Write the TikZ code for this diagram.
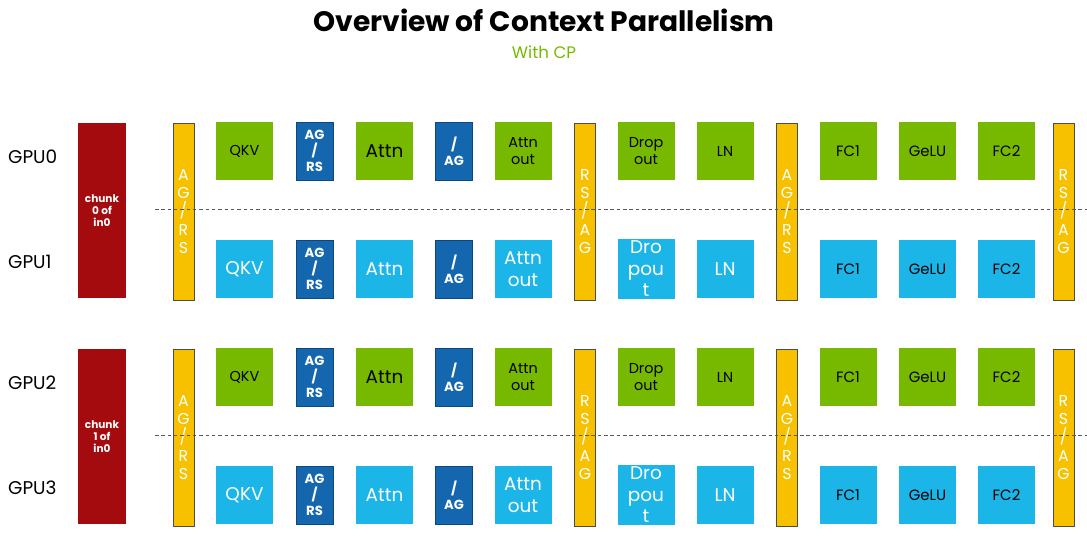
\documentclass[tikz,border=0pt]{standalone}
\usepackage{fontspec}
\setmainfont{Poppins}
\usetikzlibrary{positioning}
\definecolor{nvgreen}{HTML}{76B900}
\definecolor{cpblue}{HTML}{1CB5E8}
\definecolor{commblue}{HTML}{1466AE}
\definecolor{baryellow}{HTML}{F7C100}
\definecolor{chunkred}{HTML}{A30B0F}
\tikzset{
  op/.style={
    fill=#1, minimum width=1.14cm, minimum height=1.16cm,
    inner sep=1pt, align=center
  },
  opg/.style={op=nvgreen, text=black, font=\fontsize{8.2}{10}\selectfont},
  opb/.style={op=cpblue, text=white, font=\fontsize{10.5}{12.2}\selectfont},
  big/.style={font=\fontsize{10.5}{12.2}\selectfont},
  small/.style={font=\fontsize{8.5}{10}\selectfont, text=black},
  comm/.style={
    fill=commblue, draw=commblue!70!black, line width=0.3pt,
    minimum width=0.74cm, minimum height=1.16cm, inner sep=0,
    text=white, align=center, font=\bfseries\fontsize{7.5}{9}\selectfont
  },
  xbar/.style={
    fill=baryellow, draw=black!70, line width=0.4pt,
    minimum width=0.42cm, minimum height=3.54cm, inner sep=0,
    text=white, align=center, font=\fontsize{9}{10.3}\selectfont
  },
  chunk/.style={
    fill=chunkred, minimum width=0.96cm, minimum height=3.5cm, inner sep=0,
    text=white, align=center, font=\bfseries\fontsize{6}{6.7}\selectfont
  },
  gpulab/.style={anchor=west, font=\fontsize{10.5}{12}\selectfont},
  sep/.style={draw=black!65, line width=0.4pt, dash pattern=on 2pt off 1.6pt}
}
\begin{document}
\begin{tikzpicture}[x=0.02cm, y=-0.02cm]
  \useasboundingbox (0,0) rectangle (1087,536);
  \node[font=\bfseries\fontsize{16}{18}\selectfont] (title) at (544,20) {Overview of Context Parallelism};
  \node[text=nvgreen, font=\fontsize{9.5}{11}\selectfont, below=0.05cm of title] (subtitle) {With CP};
  \foreach \g/\dy/\ga/\gb in {0/0/GPU0/GPU1, 1/226/GPU2/GPU3}{
    % labels and input chunk
    \node[gpulab] (lab\g a) at (2,157+\dy) {\ga};
    \node[gpulab] (lab\g b) at (2,262+\dy) {\gb};
    \node[chunk] (chunk\g) at (102,210.5+\dy) {chunk\\\g{} of\\in0};
    % communication bars
    \node[xbar] (bar\g a) at (183.5,211.5+\dy) {A\\G\\/\\R\\S};
    \node[xbar] (bar\g b) at (585,211.5+\dy) {R\\S\\/\\A\\G};
    \node[xbar] (bar\g c) at (787,211.5+\dy) {A\\G\\/\\R\\S};
    \node[xbar] (bar\g d) at (1063.5,211.5+\dy) {R\\S\\/\\A\\G};
    % upper GPU
    \node[opg] (qkv\g t) at (244.5,151+\dy) {QKV};
    \node[comm] (agrs\g t) at (314.5,151+\dy) {AG\\/\\RS};
    \node[opg,big] (attn\g t) at (384.5,151+\dy) {Attn};
    \node[comm] (ag\g t) at (454,151+\dy) {/\\AG};
    \node[opg] (aout\g t) at (523,151+\dy) {Attn\\out};
    \node[opg] (drop\g t) at (646,151+\dy) {Drop\\out};
    \node[opg] (ln\g t) at (725,151+\dy) {LN};
    \node[opg,small] (fca\g t) at (848,151+\dy) {FC1};
    \node[opg,small] (gelu\g t) at (927.5,151+\dy) {GeLU};
    \node[opg,small] (fcb\g t) at (1006.5,151+\dy) {FC2};
    % lower GPU
    \node[opb] (qkv\g b) at (244.5,269+\dy) {QKV};
    \node[comm] (agrs\g b) at (314.5,269+\dy) {AG\\/\\RS};
    \node[opb] (attn\g b) at (384.5,269+\dy) {Attn};
    \node[comm] (ag\g b) at (454,269+\dy) {/\\AG};
    \node[opb] (aout\g b) at (523,269+\dy) {Attn\\out};
    \node[opb] (drop\g b) at (646,269+\dy) {Dro\\pou\\t};
    \node[opb] (ln\g b) at (725,269+\dy) {LN};
    \node[opb,small] (fca\g b) at (848,269+\dy) {FC1};
    \node[opb,small] (gelu\g b) at (927.5,269+\dy) {GeLU};
    \node[opb,small] (fcb\g b) at (1006.5,269+\dy) {FC2};
    % split between the two GPUs
    \coordinate (sepL\g) at (155,209.5+\dy);
    \coordinate (sepR\g) at (1087,209.5+\dy);
    \draw[sep] (sepL\g) -- (sepR\g);
  }
\end{tikzpicture}
\end{document}
